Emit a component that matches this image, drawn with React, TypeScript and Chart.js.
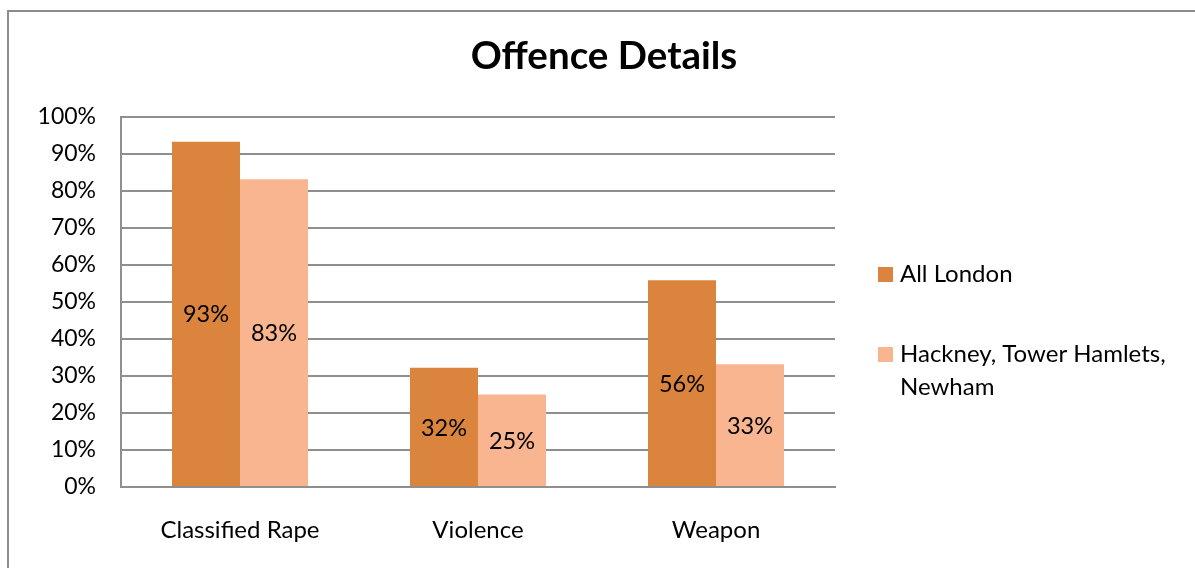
import React, { useEffect, useRef } from "react";
import { Chart, registerables } from "chart.js";

Chart.register(...registerables);

const categories = ["Classified Rape", "Violence", "Weapon"];
const allLondon = [93.3, 32.2, 55.9];
const hackneyTowerHamletsNewham = [83.2, 25.0, 33.2];
const valueLabelsAllLondon = ["93%", "32%", "56%"];
const valueLabelsHackney = ["83%", "25%", "33%"];
const seriesNames = ["All London", "Hackney, Tower Hamlets, Newham"];
const titleText = "Offence Details";

const FONT = "Lato, 'Open Sans', sans-serif";
const DARK = "#DB843D";
const LIGHT = "#F9B590";
const GRID = "#8f8f8f";

const overlayPlugin = {
  id: "overlay",
  afterDatasetsDraw(chart: any) {
    const ctx = chart.ctx;
    const labelSets = [valueLabelsAllLondon, valueLabelsHackney];
    ctx.save();
    ctx.font = `23.5px ${FONT}`;
    ctx.fillStyle = "#000";
    ctx.textAlign = "center";
    ctx.textBaseline = "middle";
    chart.data.datasets.forEach((ds: any, di: number) => {
      const meta = chart.getDatasetMeta(di);
      meta.data.forEach((bar: any, i: number) => {
        const midY = (bar.y + bar.base) / 2;
        ctx.fillText(labelSets[di][i], bar.x, midY + 1);
      });
    });
    ctx.restore();
  },
  afterDraw(chart: any) {
    const ctx = chart.ctx;
    const area = chart.chartArea;
    ctx.save();
    // title
    ctx.font = `bold 38.5px ${FONT}`;
    ctx.fillStyle = "#000";
    ctx.textAlign = "center";
    ctx.textBaseline = "alphabetic";
    ctx.fillText(titleText, 604, 69);

    // legend
    ctx.font = `24px ${FONT}`;
    ctx.textAlign = "left";
    const sqX = area.right + 43;
    const textX = sqX + 22;
    const maxW = 290;
    const baselines = [282, 362];
    const lineH = 33;
    chart.data.datasets.forEach((ds: any, di: number) => {
      const words = String(ds.label).split(" ");
      const lines: string[] = [];
      let cur = "";
      words.forEach((w) => {
        const test = cur ? cur + " " + w : w;
        if (ctx.measureText(test).width > maxW && cur) {
          lines.push(cur);
          cur = w;
        } else cur = test;
      });
      if (cur) lines.push(cur);
      const b = baselines[di];
      ctx.fillStyle = ds.backgroundColor;
      ctx.fillRect(sqX, b - 15, 15, 15);
      ctx.fillStyle = "#000";
      lines.forEach((ln, li) => ctx.fillText(ln, textX, b + li * lineH));
    });
    ctx.restore();
  },
};

export default function App() {
  const ref = useRef<HTMLCanvasElement | null>(null);

  useEffect(() => {
    if (!ref.current) return;
    const chart = new Chart(ref.current, {
      type: "bar",
      data: {
        labels: categories,
        datasets: [
          {
            label: seriesNames[0],
            data: allLondon,
            backgroundColor: DARK,
            borderWidth: 0,
          },
          {
            label: seriesNames[1],
            data: hackneyTowerHamletsNewham,
            backgroundColor: LIGHT,
            borderWidth: 0,
          },
        ],
      },
      options: {
        responsive: false,
        animation: false,
        events: [],
        layout: { padding: { left: 0, right: 360, top: 117, bottom: 0 } },
        plugins: {
          legend: { display: false },
          title: { display: false },
          tooltip: { enabled: false },
        },
        datasets: {
          bar: { categoryPercentage: 0.5714, barPercentage: 1 },
        },
        scales: {
          x: {
            grid: { display: false, drawTicks: false },
            border: { display: true, color: GRID, width: 2 },
            ticks: {
              color: "#000",
              font: { family: FONT, size: 24 },
              padding: 29,
              maxRotation: 0,
            },
            afterFit: (s: any) => {
              s.height = 568 - 487;
            },
          },
          y: {
            min: 0,
            max: 100,
            grid: { color: GRID, lineWidth: 2, drawTicks: false },
            border: { display: true, color: GRID, width: 2 },
            ticks: {
              stepSize: 10,
              color: "#000",
              font: { family: FONT, size: 23 },
              padding: 25,
              callback: (v: any) => `${v}%`,
            },
            afterFit: (s: any) => {
              s.width = 121;
            },
          },
        },
      },
      plugins: [overlayPlugin],
    });
    return () => chart.destroy();
  }, []);

  return (
    <div style={{ position: "fixed", left: 0, top: 0, width: 1195, height: 568, overflow: "hidden", background: "#fff" }}>
      <div
        style={{
          position: "absolute",
          left: 7,
          top: 10,
          width: 1400,
          height: 800,
          border: "2px solid #8c8c8c",
          boxSizing: "border-box",
        }}
      />
      <canvas
        ref={ref}
        width={1195}
        height={568}
        style={{ position: "absolute", left: 0, top: 0, width: 1195, height: 568 }}
      />
    </div>
  );
}
